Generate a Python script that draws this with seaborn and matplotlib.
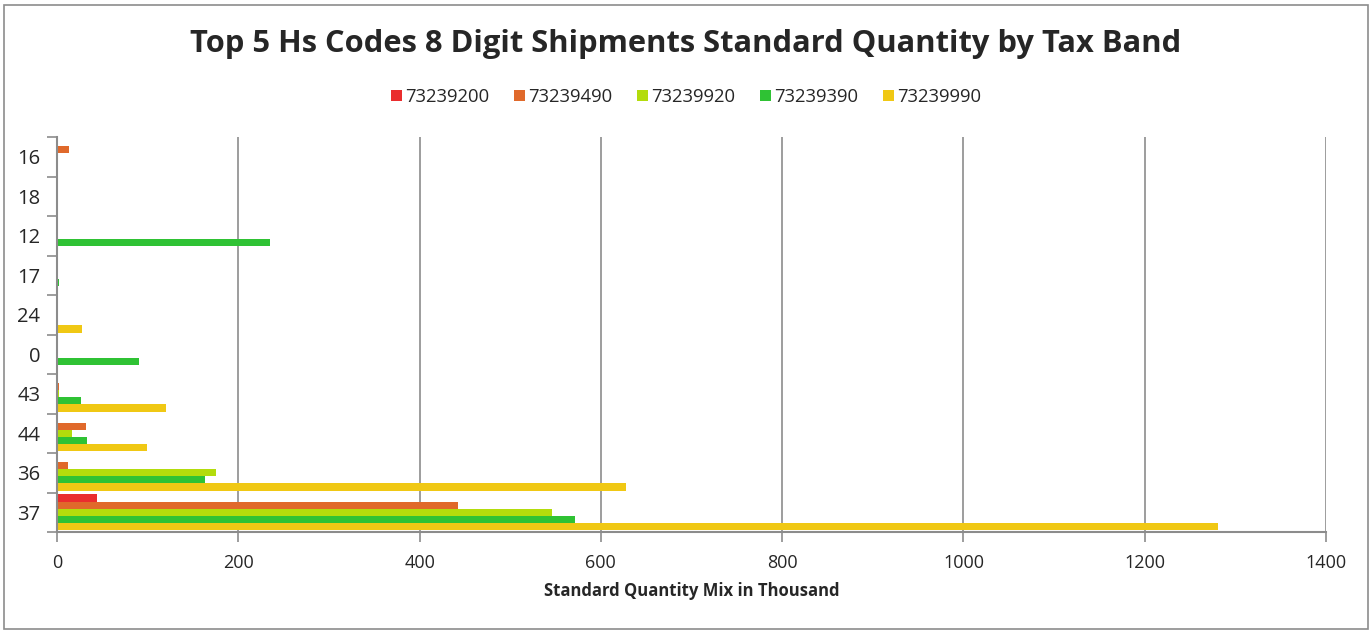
import numpy as np
import pandas as pd
import matplotlib
matplotlib.use("Agg")
import matplotlib.pyplot as plt
from matplotlib.patches import Rectangle
from matplotlib.ticker import FixedLocator
import seaborn as sns

# tax bands, top to bottom
bands = ["16", "18", "12", "17", "24", "0", "43", "44", "36", "37"]
codes = ["73239200", "73239490", "73239920", "73239390", "73239990"]

# standard quantity in thousand, per code, in band order
q_73239200 = [0, 0, 0, 0, 0, 0, 0, 0, 1.3, 44]
q_73239490 = [13, 0, 0, 0.5, 0, 0, 2, 32, 11.6, 442]
q_73239920 = [0, 0, 0, 1, 0, 0, 2, 16, 175, 546]
q_73239390 = [0, 0.5, 234.5, 2, 0.5, 90.7, 26, 33, 163.5, 571]
q_73239990 = [0, 0, 0, 1, 27.8, 0, 120.5, 99.5, 627.6, 1281]

colors = ["#EA2D2E", "#E0692B", "#B3DC0C", "#2FC234", "#F0C814"]

series = [q_73239200, q_73239490, q_73239920, q_73239390, q_73239990]
rows = []
for code, vals in zip(codes, series):
    for band, v in zip(bands, vals):
        rows.append({"band": band, "code": code, "qty": v})
df = pd.DataFrame(rows)

sns.set_style("white")
plt.rcParams["font.family"] = ["Open Sans", "DejaVu Sans"]

fig = plt.figure(figsize=(13.72, 6.35), dpi=100)
ax = fig.add_axes([57 / 1372, 1 - 532 / 635, (1326 - 57) / 1372, (532 - 137) / 635])

sns.barplot(data=df, y="band", x="qty", hue="code", order=bands, hue_order=codes,
            palette=colors, orient="h", width=0.9, saturation=1, linewidth=0, ax=ax)

ax.set_xlim(0, 1400)
ax.set_ylim(len(bands) - 0.5, -0.5)
ax.set_xticks(range(0, 1401, 200))
ax.grid(axis="x", color="#8c8c8c", linewidth=1.2)
ax.set_axisbelow(True)

for s in ["top", "right"]:
    ax.spines[s].set_visible(False)
for s in ["left", "bottom"]:
    ax.spines[s].set_color("#8c8c8c")
    ax.spines[s].set_linewidth(1.5)

ax.yaxis.set_minor_locator(FixedLocator(np.arange(-0.5, len(bands), 1)))
ax.tick_params(axis="y", which="major", length=0, pad=12, labelsize=14.5)
ax.tick_params(axis="y", which="minor", length=7, color="#8c8c8c", width=1.2, left=True)
ax.tick_params(axis="x", which="major", length=7, color="#8c8c8c", width=1.2,
               labelsize=13, pad=9, bottom=True)

ax.set_ylabel("")
ax.set_xlabel("Standard Quantity Mix in Thousand", fontsize=12, fontweight="bold", labelpad=7)

leg = ax.legend(loc="center", bbox_to_anchor=(0.5, (635 - 97) / 635), bbox_transform=fig.transFigure,
                ncol=5, frameon=False, fontsize=13.3, handlelength=0.6, handleheight=0.6,
                handletextpad=0.2, columnspacing=1.3)

fig.text(0.5, 1 - 44 / 635, "Top 5 Hs Codes 8 Digit Shipments Standard Quantity by Tax Band",
         ha="center", va="center", fontsize=22.2, fontweight="bold")

fig.patches.append(Rectangle((4 / 1372, 6 / 635), 1364 / 1372, 624 / 635, transform=fig.transFigure,
                             fill=False, edgecolor="#8c8c8c", linewidth=1.2))

fig.savefig("out.png", dpi=100)
